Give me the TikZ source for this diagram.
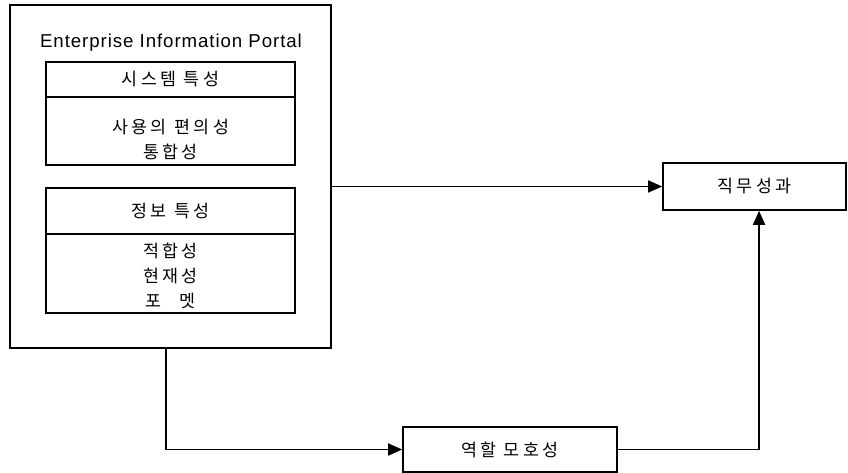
\documentclass[tikz,border=0pt]{standalone}
\usepackage{fontspec}
\usepackage{tikz}
\usetikzlibrary{arrows.meta}
\setmainfont{Liberation Sans}[LetterSpace=5]
\newfontfamily\kr{Noto Sans CJK KR}[LetterSpace=20]

\tikzset{
  box/.style={draw, line width=1.2pt, inner sep=0pt, align=center, font=\kr\fontsize{13}{18.75}\selectfont},
  link/.style={line width=1.2pt, -{Triangle[length=10.5pt,width=9pt]}}
}

\begin{document}
\begin{tikzpicture}[x=0.75pt,y=0.75pt,yscale=-1,xscale=1]
\useasboundingbox (0,0) rectangle (848,473);

% portal block
\node [box, minimum width=240.75pt, minimum height=257.25pt] (eip) at (170.5,176.5) {};
\node [font=\fontsize{14}{16}\selectfont] (eiptitle) at (171,43) {Enterprise Information Portal};

\node [box, minimum width=186.75pt, minimum height=26.25pt] (syshead) at (170.5,79.5) {시스템 특성};
\node [box, minimum width=186.75pt, minimum height=51pt] (sysbody) at (170.5,131) {};
\node [box, draw=none] (sysitems) at (170.5,139) {사용의 편의성\\통합성};

\node [box, minimum width=186.75pt, minimum height=34.5pt] (infohead) at (170.5,211) {정보 특성};
\node [box, minimum width=186.75pt, minimum height=59.25pt] (infobody) at (170.5,273.5) {};
\node [box, draw=none] (infoitems) at (170.5,276) {적합성\\현재성\\포\quad 멧};

% outcome and mediator
\node [box, minimum width=137.25pt, minimum height=35.25pt] (job) at (754.5,186.5) {직무성과};
\node [box, minimum width=160.5pt, minimum height=33.75pt] (role) at (510,449.5) {역할 모호성};

\draw [link] (eip.east |- job.west) -- (job.west);
\draw [link] ([xshift=-3.4pt]eip.south) |- (role.west);
\draw [link] (role.east) -| ([xshift=3.4pt]job.south);

\end{tikzpicture}
\end{document}
